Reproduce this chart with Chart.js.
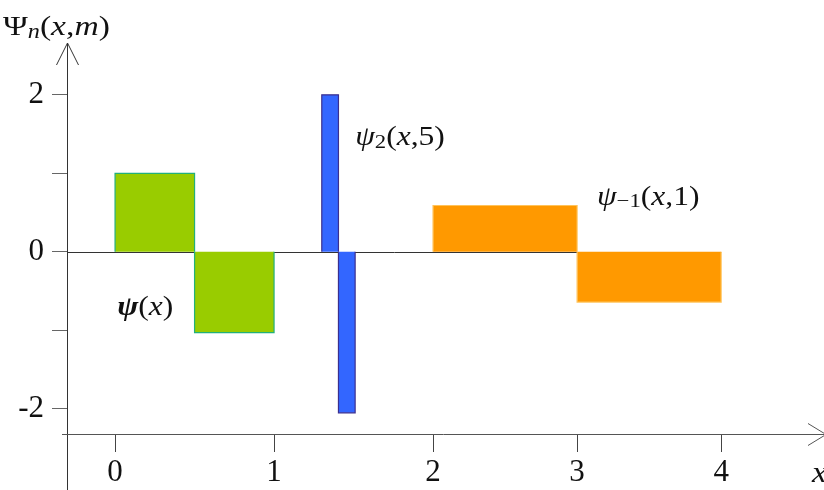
<!DOCTYPE html>
<html>
<head>
<meta charset="utf-8">
<script src="https://cdn.jsdelivr.net/npm/chart.js@4/dist/chart.umd.min.js"></script>
<style>
  html, body { margin: 0; padding: 0; background: #fff; }
  canvas { display: block; }
</style>
</head>
<body>
<canvas id="haar" width="824" height="490"></canvas>
<script>
// Haar wavelet pieces: each piece is a step on [edge_i, edge_i+1] with a constant value
const motherEdges   = [0, 0.5, 1];
const motherValues  = [1, -1.03];
const narrowEdges   = [1.3, 1.405, 1.51];
const narrowValues  = [2, -2.05];
const wideEdges     = [2, 3, 4];
const wideValues    = [0.59, -0.64];

// axis ticks
const xTicks = [0, 1, 2, 3, 4];
const xTickLabels = ['0', '1', '2', '3', '4'];
const yTicks = [-2, -1, 0, 1, 2];
const yTickLabels = ['-2', '', '0', '', '2'];

// x axis is drawn tighter past x = 2
const X_SPLIT = 2;
const X_SQUEEZE = 0.906;

class SegmentedScale extends Chart.LinearScale {
  static id = 'segmented';
  static defaults = {};
  warp(v) { return v <= X_SPLIT ? v : X_SPLIT + (v - X_SPLIT) * X_SQUEEZE; }
  unwarp(w) { return w <= X_SPLIT ? w : X_SPLIT + (w - X_SPLIT) / X_SQUEEZE; }
  getPixelForValue(value) {
    if (value === null || value === undefined || isNaN(value)) return NaN;
    const a = this.warp(this.min), b = this.warp(this.max);
    return this.getPixelForDecimal((this.warp(value) - a) / (b - a));
  }
  getValueForPixel(pixel) {
    const a = this.warp(this.min), b = this.warp(this.max);
    return this.unwarp(a + this.getDecimalForPixel(pixel) * (b - a));
  }
}
Chart.register(SegmentedScale);

function stepPieces(edges, values) {
  const out = [];
  for (let i = 0; i < values.length; i++) {
    out.push([
      { x: edges[i], y: 0 },
      { x: edges[i], y: values[i] },
      { x: edges[i + 1], y: values[i] },
      { x: edges[i + 1], y: 0 }
    ]);
  }
  return out;
}

function pieceDatasets(edges, values, fillColor, lineColor) {
  return stepPieces(edges, values).map(pts => ({
    data: pts,
    showLine: true,
    tension: 0,
    pointRadius: 0,
    borderWidth: 1.2,
    borderColor: lineColor,
    backgroundColor: fillColor,
    fill: 'origin'
  }));
}

const datasets = [
  ...pieceDatasets(motherEdges, motherValues, '#99cc00', '#22b07a'),
  ...pieceDatasets(narrowEdges, narrowValues, '#3366ff', '#3b2f8f'),
  ...pieceDatasets(wideEdges, wideValues, '#ff9900', '#ffc35a')
];

const SERIF = '"Liberation Serif", "Times New Roman", serif';

// text with italic letters and subscripts, widened by `stretch`
function drawRich(ctx, x, y, parts, size, stretch) {
  ctx.save();
  ctx.translate(x, y);
  ctx.scale(stretch || 1, 1);
  let cx = 0;
  for (const p of parts) {
    const s = p.sub ? size * 0.72 : size;
    ctx.font = (p.italic ? 'italic ' : '') + (p.bold ? 'bold ' : '') + s + 'px ' + SERIF;
    ctx.fillText(p.t, cx, p.sub ? size * 0.1 : 0);
    cx += ctx.measureText(p.t).width + (p.gap || 0);
  }
  ctx.restore();
}

const axesPlugin = {
  id: 'haarAxes',
  beforeDatasetsDraw(chart) {
    const { ctx, scales: { x, y } } = chart;
    ctx.save();
    ctx.strokeStyle = '#333';
    ctx.lineWidth = 1;
    const y0 = Math.round(y.getPixelForValue(0)) + 0.5;
    ctx.beginPath();
    ctx.moveTo(chart.chartArea.left, y0);
    ctx.lineTo(x.getPixelForValue(wideEdges[wideEdges.length - 1]), y0);
    ctx.stroke();
    ctx.restore();
  },
  afterDraw(chart) {
    const { ctx, chartArea: ca } = chart;
    ctx.save();
    ctx.lineWidth = 1;
    // vertical axis with open arrow head
    const ax = Math.round(ca.left) - 0.5;
    ctx.strokeStyle = '#333';
    ctx.beginPath();
    ctx.moveTo(ax, ca.top);
    ctx.lineTo(ax, chart.height);
    ctx.moveTo(ax - 11, ca.top + 22);
    ctx.lineTo(ax, ca.top);
    ctx.lineTo(ax + 11, ca.top + 22);
    ctx.stroke();
    // horizontal axis with open arrow head
    const ay = Math.round(ca.bottom) + 0.5;
    ctx.strokeStyle = '#555';
    ctx.beginPath();
    ctx.moveTo(ca.left - 6, ay);
    ctx.lineTo(ca.right + 4, ay);
    ctx.moveTo(ca.right - 14, ay - 11);
    ctx.lineTo(ca.right + 4, ay);
    ctx.lineTo(ca.right - 14, ay + 11);
    ctx.stroke();

    ctx.fillStyle = '#111';
    ctx.textBaseline = 'alphabetic';
    // axis titles
    drawRich(ctx, 3, 35, [
      { t: 'Ψ' }, { t: 'n', italic: true, sub: true }, { t: '(' },
      { t: 'x', italic: true }, { t: ',' }, { t: 'm', italic: true }, { t: ')' }
    ], 28, 1.2);
    drawRich(ctx, ca.right - 10, 482, [{ t: 'x', italic: true }], 29, 1.15);

    // curve names
    const { x, y } = chart.scales;
    drawRich(ctx, x.getPixelForValue(0.013), y.getPixelForValue(-0.8), [
      { t: 'ψ', italic: true, bold: true }, { t: '(' }, { t: 'x', italic: true }, { t: ')' }
    ], 27, 1.17);
    drawRich(ctx, x.getPixelForValue(1.51), y.getPixelForValue(1.36), [
      { t: 'ψ', italic: true }, { t: '2', sub: true }, { t: '(' }, { t: 'x', italic: true },
      { t: ',5)' }
    ], 27, 1.17);
    drawRich(ctx, x.getPixelForValue(3.138), y.getPixelForValue(0.6), [
      { t: 'ψ', italic: true }, { t: '−1', sub: true }, { t: '(' }, { t: 'x', italic: true },
      { t: ',1)' }
    ], 27, 1.17);
    ctx.restore();
  }
};

new Chart(document.getElementById('haar'), {
  type: 'line',
  data: { datasets },
  plugins: [axesPlugin],
  options: {
    responsive: false,
    devicePixelRatio: 1,
    animation: false,
    events: [],
    layout: { padding: { top: 43, right: 2, left: 0, bottom: 0 } },
    plugins: { legend: { display: false }, tooltip: { enabled: false } },
    scales: {
      x: {
        type: 'segmented',
        min: -0.296,
        max: 4.70,
        afterFit(s) { s.height = 56; },
        afterBuildTicks(s) { s.ticks = xTicks.map(v => ({ value: v })); },
        border: { display: false },
        grid: { drawOnChartArea: false, drawTicks: true, tickLength: 18, color: '#444' },
        ticks: {
          autoSkip: false, maxRotation: 0, padding: 2, color: '#111',
          font: { family: SERIF, size: 31 },
          callback: (v, i) => xTickLabels[i]
        }
      },
      y: {
        type: 'linear',
        min: -2.32,
        max: 2.66,
        afterFit(s) { s.width = 68; },
        afterBuildTicks(s) { s.ticks = yTicks.map(v => ({ value: v })); },
        border: { display: false },
        grid: { drawOnChartArea: false, drawTicks: true, tickLength: 16, color: '#666' },
        ticks: {
          padding: 8, color: '#111',
          font: { family: SERIF, size: 31 },
          callback: (v, i) => yTickLabels[i]
        }
      }
    }
  }
});
</script>
</body>
</html>
